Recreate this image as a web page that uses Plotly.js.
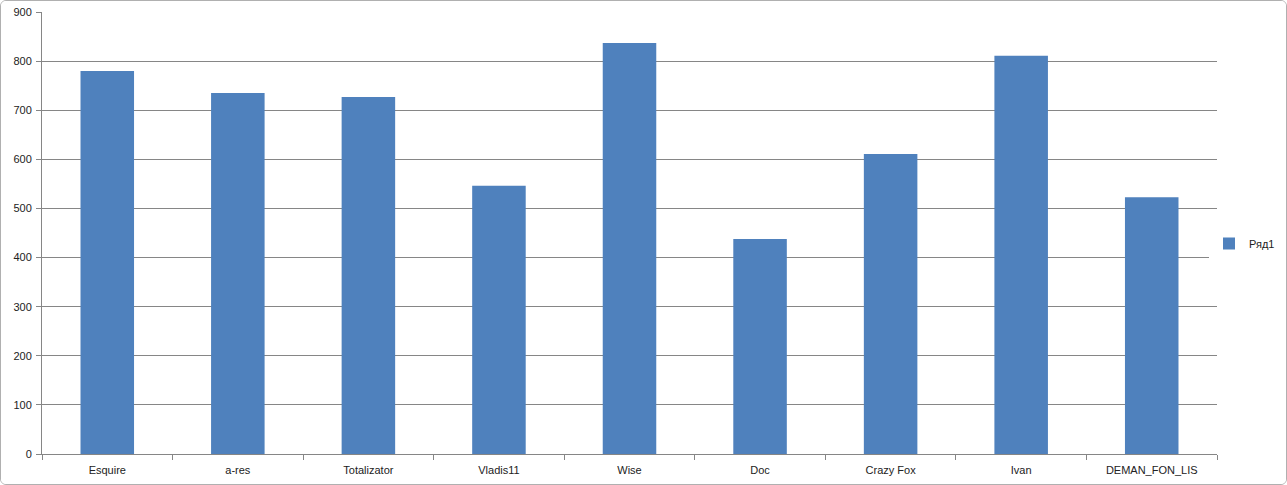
<!DOCTYPE html>
<html>
<head>
<meta charset="utf-8">
<script src="https://cdn.plot.ly/plotly-3.0.1.min.js"></script>
<style>
html,body{margin:0;padding:0;background:#fff;}
#chart{width:1287px;height:485px;box-sizing:border-box;border:1px solid #b0b0b0;border-radius:6px;overflow:hidden;}
</style>
</head>
<body>
<div id="chart"></div>
<script>
const categories = ["Esquire","a-res","Totalizator","Vladis11","Wise","Doc","Crazy Fox","Ivan","DEMAN_FON_LIS"];
const values = [780, 735, 727, 546, 837, 438, 611, 811, 523];
const seriesName = "Ряд1";

const data = [{
  type: "bar",
  x: categories,
  y: values,
  name: seriesName,
  marker: {color: "#4F81BD"},
  showlegend: true
}];

const layout = {
  width: 1287, height: 485,
  margin: {l: 41, r: 71, t: 11, b: 32, autoexpand: false},
  paper_bgcolor: "#fff", plot_bgcolor: "#fff",
  bargap: 0.59,
  font: {family: "Liberation Sans, Arial, sans-serif", size: 11, color: "#222"},
  xaxis: {
    type: "category",
    showline: true, linecolor: "#868686", linewidth: 1,
    ticks: "outside", tickson: "boundaries", ticklen: 5, tickcolor: "#868686",
    ticklabelstandoff: 6,
    showgrid: false,
    tickfont: {size: 11}
  },
  yaxis: {
    range: [0, 900], dtick: 100,
    showline: true, linecolor: "#868686", linewidth: 1,
    ticks: "outside", ticklen: 5, tickcolor: "#868686",
    ticklabelstandoff: 2,
    showgrid: true, gridcolor: "#868686", gridwidth: 1,
    zeroline: false,
    tickfont: {size: 11}
  },
  legend: {
    xref: "container", yref: "container",
    x: 1208/1287, xanchor: "left", y: 0.5, yanchor: "middle",
    font: {size: 11}, itemwidth: 30
  }
};

Plotly.newPlot("chart", data, layout, {displayModeBar: false, staticPlot: true});
</script>
</body>
</html>
